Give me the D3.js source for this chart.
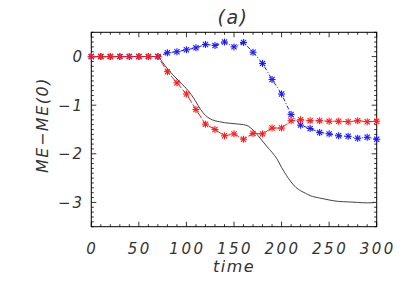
<!DOCTYPE html>
<html><head><meta charset="utf-8">
<script src="https://cdn.jsdelivr.net/npm/d3@7"></script>
<style>body{margin:0;background:#fff}svg{display:block}</style>
</head><body>
<svg id="c" width="407" height="291"></svg>
<script>
const times = d3.range(0, 301, 10);
const redVals = [0,0,0,0,0,0,0,0,-0.31,-0.54,-0.77,-1.09,-1.39,-1.50,-1.63,-1.59,-1.70,-1.58,-1.59,-1.47,-1.47,-1.32,-1.30,-1.32,-1.32,-1.33,-1.33,-1.34,-1.32,-1.34,-1.33];
const blueVals = [0,0,0,0,0,0,0,0,0.08,0.10,0.14,0.18,0.25,0.23,0.30,0.20,0.29,0.09,-0.14,-0.47,-0.77,-1.19,-1.41,-1.48,-1.56,-1.59,-1.63,-1.64,-1.68,-1.66,-1.70];
const blackT = [0,70,75,80,85,90,95,100,105,110,115,120,125,130,135,140,145,150,155,160,165,170,175,180,185,190,195,200,205,210,215,220,225,230,240,250,260,270,280,290,300];
const blackVals = [0,0,-0.12,-0.25,-0.36,-0.46,-0.56,-0.66,-0.78,-0.93,-1.09,-1.21,-1.28,-1.32,-1.34,-1.36,-1.37,-1.38,-1.39,-1.40,-1.43,-1.51,-1.62,-1.74,-1.86,-1.97,-2.10,-2.28,-2.44,-2.58,-2.69,-2.76,-2.81,-2.86,-2.91,-2.95,-2.98,-2.99,-3.00,-3.01,-3.00];
const xTicks = [0,50,100,150,200,250,300];
const yTicks = [0,-1,-2,-3];

const svg = d3.select("#c");
const L=91.3, R=376.7, T=32.3, B=226.7;
const x = d3.scaleLinear().domain([0,300]).range([L,R]);
const y = d3.scaleLinear().domain([-3.5,0.5]).range([B,T]);
const font = "DejaVu Sans";
const txtCol = "#333";

svg.append("rect").attr("x",L).attr("y",T).attr("width",R-L).attr("height",B-T)
  .attr("fill","none").attr("stroke","#000").attr("stroke-width",1);

const xMinor = d3.range(0,301,10), yMinor = d3.range(-35,6,1).map(d=>d/10);
const g = svg.append("g").attr("stroke","#000").attr("stroke-width",0.8);
xMinor.forEach(t=>{
  const major = t%50===0, len = major?5:2.5;
  g.append("line").attr("x1",x(t)).attr("x2",x(t)).attr("y1",B).attr("y2",B-len);
  g.append("line").attr("x1",x(t)).attr("x2",x(t)).attr("y1",T).attr("y2",T+len);
});
yMinor.forEach(v=>{
  const major = Math.abs(v-Math.round(v))<1e-6, len = major?5:2.5;
  g.append("line").attr("x1",L).attr("x2",L+len).attr("y1",y(v)).attr("y2",y(v));
  g.append("line").attr("x1",R).attr("x2",R-len).attr("y1",y(v)).attr("y2",y(v));
});

svg.append("g").selectAll("text").data(xTicks).join("text")
  .attr("x",d=>x(d)+1).attr("y",254).attr("text-anchor","middle")
  .attr("font-family",font).attr("font-style","italic").attr("font-size",15)
  .attr("letter-spacing",2.5).attr("fill",txtCol).text(d=>d);
svg.append("g").selectAll("text").data(yTicks).join("text")
  .attr("x",84).attr("y",d=>y(d)+5.5).attr("text-anchor","end")
  .attr("font-family",font).attr("font-style","italic").attr("font-size",15)
  .attr("letter-spacing",2).attr("fill",txtCol).text(d=>d===0?"0":"\u2212"+Math.abs(d));

svg.append("text").attr("x",234).attr("y",272).attr("text-anchor","middle")
  .attr("font-family",font).attr("font-style","italic").attr("font-size",16)
  .attr("letter-spacing",1.5).attr("fill",txtCol).text("time");
svg.append("text").attr("transform","translate(48,125) rotate(-90)").attr("text-anchor","middle")
  .attr("font-family",font).attr("font-style","italic").attr("font-size",16)
  .attr("letter-spacing",1.5).attr("fill",txtCol).text("ME\u2212ME(0)");
svg.append("text").attr("x",233).attr("y",24).attr("text-anchor","middle")
  .attr("font-family",font).attr("font-style","italic").attr("font-size",19)
  .attr("letter-spacing",1.5).attr("fill",txtCol).text("(a)");

// black curve
svg.append("path").datum(blackT.map((t,i)=>[t,blackVals[i]]))
  .attr("d",d3.line().x(d=>x(d[0])).y(d=>y(d[1])).curve(d3.curveMonotoneX))
  .attr("fill","none").attr("stroke","#444").attr("stroke-width",1);

function series(vals,color,dash){
  const data = times.map((t,i)=>[t,vals[i]]);
  svg.append("path").datum(data).attr("d",d3.line().x(d=>x(d[0])).y(d=>y(d[1])))
    .attr("fill","none").attr("stroke",color).attr("stroke-width",1).attr("stroke-dasharray",dash);
  const r=3.5, r2=2.6;
  const m = svg.append("g").attr("stroke",color).attr("stroke-width",1.1);
  data.forEach(d=>{
    const cx=x(d[0]), cy=y(d[1]);
    m.append("line").attr("x1",cx-r).attr("x2",cx+r).attr("y1",cy).attr("y2",cy);
    m.append("line").attr("x1",cx).attr("x2",cx).attr("y1",cy-r).attr("y2",cy+r);
    m.append("line").attr("x1",cx-r2).attr("x2",cx+r2).attr("y1",cy-r2).attr("y2",cy+r2);
    m.append("line").attr("x1",cx-r2).attr("x2",cx+r2).attr("y1",cy+r2).attr("y2",cy-r2);
  });
}
series(blueVals,"#1a1aff","4,2,1,2");
series(redVals,"#ff1a1a","7,2");
</script>
</body></html>
